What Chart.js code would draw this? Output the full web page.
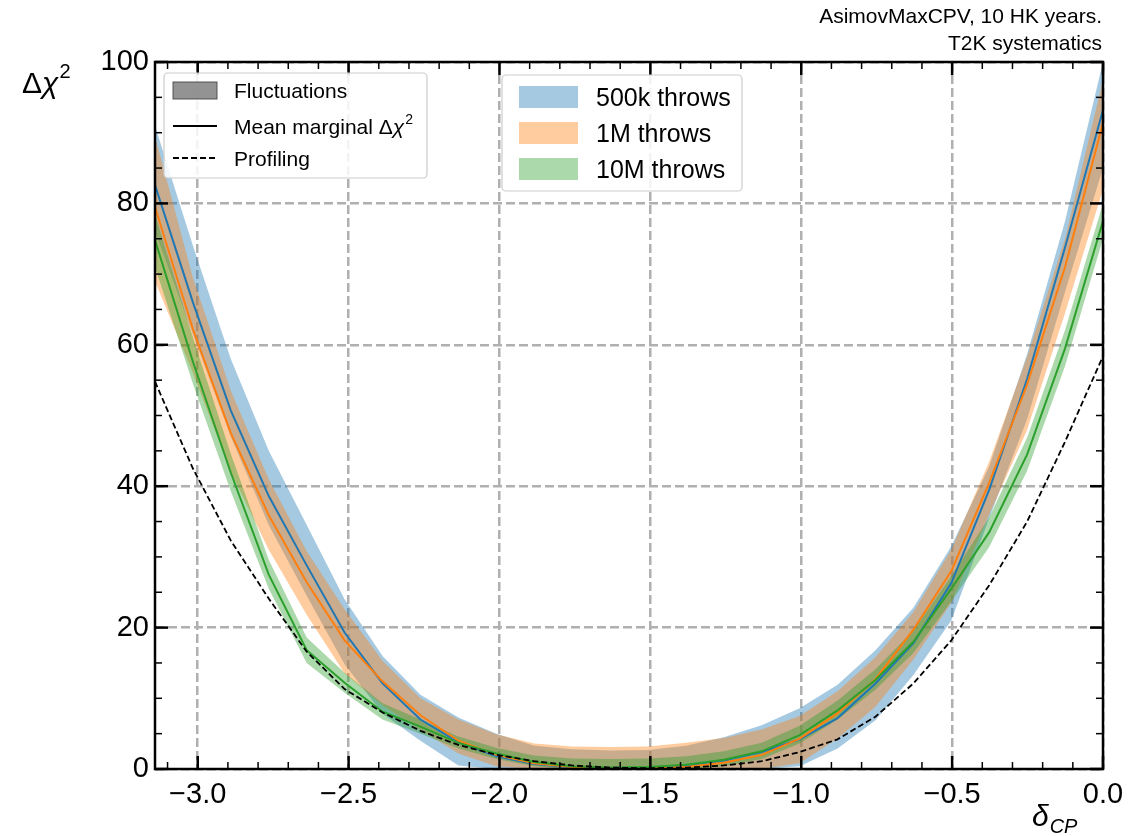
<!DOCTYPE html>
<html>
<head>
<meta charset="utf-8">
<script src="https://cdn.jsdelivr.net/npm/chart.js@4.4.0/dist/chart.umd.min.js"></script>
<style>
    html, body { margin: 0; padding: 0; background: #ffffff; }
    #wrap { width: 1148px; height: 836px; }
</style>
</head>
<body>
<div id="wrap"><canvas id="chi2-chart" width="1148" height="836"></canvas></div>
<script>
//DATOS: delta_CP de -pi a 0
const deltaCP = [-3.1416, -3.0159, -2.8903, -2.7646, -2.6389, -2.5133, -2.3876, -2.2619, -2.1363,
    -2.0106, -1.8850, -1.7593, -1.6336, -1.5080, -1.3823, -1.2566, -1.1310, -1.0053, -0.8796,
    -0.7540, -0.6283, -0.5027, -0.3770, -0.2513, -0.1257, 0.0];

// 500k throws
const blueMean = [82.6, 66.0, 50.7, 38.6, 28.8, 19.3, 12.1, 7.0, 3.8, 1.8, 0.7, 0.2, 0.0,
    0.1, 0.5, 1.2, 2.4, 4.2, 7.2, 12.1, 17.8, 26.3, 39.5, 55.2, 73.8, 93.2];
const blueLow = [76.0, 61.5, 47.0, 34.5, 24.5, 14.8, 7.8, 4.0, 0.5, 0, 0, 0, 0,
    0, 0, 0, 0, 0.4, 2.9, 6.9, 13.3, 21.0, 35.5, 49.5, 67.5, 85.0];
const blueHigh = [91.0, 74.0, 58.0, 45.0, 34.5, 24.0, 16.0, 10.5, 7.3, 5.0, 3.3, 2.8, 2.6,
    2.7, 3.3, 4.5, 6.2, 8.6, 11.9, 16.8, 22.8, 31.5, 42.8, 58.7, 77.5, 100.0];

// 1M throws
const orangeMean = [79.5, 62.2, 47.5, 35.9, 26.4, 18.2, 12.4, 7.6, 4.0, 2.0, 0.8, 0.3, 0.1,
    0.1, 0.3, 0.9, 2.0, 4.3, 7.9, 12.7, 19.7, 28.0, 40.5, 54.4, 71.0, 91.4];
const orangeLow = [69.0, 56.0, 42.0, 31.0, 21.8, 13.5, 9.0, 5.5, 2.2, 0.4, 0, 0, 0,
    0, 0, 0, 0, 0.8, 4.3, 8.8, 15.5, 23.5, 36.0, 48.0, 64.5, 82.0];
const orangeHigh = [89.5, 69.5, 53.5, 41.0, 30.8, 22.6, 15.3, 10.0, 7.0, 4.9, 3.6, 3.2, 3.1,
    3.2, 3.7, 4.4, 5.6, 7.5, 11.0, 15.8, 22.2, 31.0, 43.5, 58.3, 75.0, 97.5];

// 10M throws
const greenMean = [74.8, 57.6, 41.9, 27.5, 16.8, 12.2, 8.1, 6.0, 3.7, 2.2, 1.0, 0.4, 0.2,
    0.3, 0.6, 1.3, 2.5, 4.8, 8.3, 12.6, 18.0, 25.5, 33.5, 44.5, 59.5, 77.5];
const greenLow = [71.0, 54.5, 39.3, 25.5, 15.0, 10.8, 7.0, 5.0, 2.9, 1.4, 0.4, 0, 0,
    0, 0, 0.4, 1.4, 3.6, 7.0, 11.2, 16.4, 23.7, 31.4, 42.2, 57.0, 75.0];
const greenHigh = [78.5, 61.0, 44.6, 29.6, 18.6, 13.6, 9.3, 7.0, 4.6, 3.0, 1.9, 1.5, 1.4,
    1.5, 1.8, 2.5, 3.7, 6.1, 9.7, 14.1, 19.6, 27.3, 35.6, 46.9, 62.1, 80.0];

// Profiling
const profiling = [54.8, 42.5, 32.3, 24.1, 16.6, 11.3, 8.0, 5.4, 3.4, 2.0, 1.1, 0.5, 0.2,
    0.1, 0.2, 0.5, 1.1, 2.4, 4.2, 7.4, 12.1, 18.2, 26.0, 35.0, 46.3, 58.4];

// ticks
const xTicks = [-3.0, -2.5, -2.0, -1.5, -1.0, -0.5, 0.0];
const yTicks = [0, 20, 40, 60, 80, 100];

const throwLabels = ['500k throws', '1M throws', '10M throws'];
const styleLabels = ['Fluctuations', 'Mean marginal \u0394\u03c7', 'Profiling'];
const titleLines = ['AsimovMaxCPV, 10 HK years.', 'T2K systematics'];

const BLUE = 'rgb(31, 119, 180)';
const ORANGE = 'rgb(255, 127, 14)';
const GREEN = 'rgb(44, 160, 44)';
const BLUE_BAND = 'rgba(31, 119, 180, 0.4)';
const ORANGE_BAND = 'rgba(255, 127, 14, 0.4)';
const GREEN_BAND = 'rgba(44, 160, 44, 0.4)';
const FONT = '"Liberation Sans", Arial, Helvetica, sans-serif';

function pts(arr) {
    return deltaCP.map((x, i) => ({ x: x, y: arr[i] }));
}

function band(arr, color, order, fillPrev) {
    return {
        data: pts(arr),
        borderWidth: 0,
        borderColor: 'rgba(0,0,0,0)',
        backgroundColor: color,
        pointRadius: 0,
        fill: fillPrev ? '-1' : false,
        order: order
    };
}

function meanLine(arr, color, order, dash) {
    return {
        data: pts(arr),
        borderColor: color,
        borderWidth: dash ? 1.8 : 2,
        borderDash: dash || [],
        pointRadius: 0,
        fill: false,
        tension: 0,
        order: order
    };
}

//TEXTOS, TICKS Y LEYENDAS ESTILO MATPLOTLIB
const mplFrame = {
    id: 'mplFrame',
    afterDatasetsDraw(chart) {
        const ctx = chart.ctx;
        const a = chart.chartArea;
        const xs = chart.scales.x;
        const ys = chart.scales.y;

        ctx.save();
        ctx.strokeStyle = '#000';
        ctx.setLineDash([]);

        function seg(x1, y1, x2, y2) {
            ctx.beginPath();
            ctx.moveTo(x1, y1);
            ctx.lineTo(x2, y2);
            ctx.stroke();
        }

        // minor ticks
        ctx.lineWidth = 1.5;
        for (let i = -31; i < 0; i++) {
            const v = i / 10;
            if (i % 5 === 0) continue;
            const px = xs.getPixelForValue(v);
            seg(px, a.bottom, px, a.bottom - 7);
            seg(px, a.top, px, a.top + 7);
        }
        for (let v = 5; v < 100; v += 5) {
            if (v % 20 === 0) continue;
            const py = ys.getPixelForValue(v);
            seg(a.left, py, a.left + 7, py);
            seg(a.right, py, a.right - 7, py);
        }

        // major ticks
        ctx.lineWidth = 2.5;
        xTicks.forEach(v => {
            const px = xs.getPixelForValue(v);
            seg(px, a.bottom, px, a.bottom - 13);
            seg(px, a.top, px, a.top + 13);
        });
        yTicks.forEach(v => {
            const py = ys.getPixelForValue(v);
            seg(a.left, py, a.left + 13, py);
            seg(a.right, py, a.right - 13, py);
        });

        // frame
        ctx.lineWidth = 2.5;
        ctx.strokeRect(a.left, a.top, a.right - a.left, a.bottom - a.top);

        // legend 1
        function box(x, y, w, h) {
            ctx.beginPath();
            ctx.roundRect(x, y, w, h, 4);
            ctx.fillStyle = 'rgba(255,255,255,0.85)';
            ctx.fill();
            ctx.lineWidth = 1.2;
            ctx.strokeStyle = '#cccccc';
            ctx.stroke();
        }

        box(164, 73, 263, 105);
        ctx.fillStyle = 'rgba(128,128,128,0.85)';
        ctx.fillRect(173, 82, 44, 17);
        ctx.strokeStyle = 'rgba(70,70,70,0.9)';
        ctx.lineWidth = 1;
        ctx.strokeRect(173, 82, 44, 17);
        ctx.strokeStyle = '#000';
        ctx.lineWidth = 2;
        seg(173, 126, 217, 126);
        ctx.lineWidth = 1.8;
        ctx.setLineDash([6, 3]);
        seg(173, 158, 217, 158);
        ctx.setLineDash([]);

        ctx.fillStyle = '#000';
        ctx.textBaseline = 'alphabetic';
        ctx.textAlign = 'left';
        ctx.font = '21px ' + FONT;
        ctx.fillText(styleLabels[0], 234, 98);
        ctx.fillText(styleLabels[2], 234, 166);
        // Mean marginal Δχ²
        ctx.fillText('Mean marginal \u0394', 234, 134);
        let w = ctx.measureText('Mean marginal \u0394').width;
        ctx.font = 'italic 21px ' + FONT;
        ctx.fillText('\u03c7', 234 + w, 134);
        w += ctx.measureText('\u03c7').width;
        ctx.font = '14px ' + FONT;
        ctx.fillText('2', 234 + w + 1, 124);

        // legend 2
        box(502, 75, 240, 116);
        const bands = [BLUE_BAND, ORANGE_BAND, GREEN_BAND];
        const rowsY = [97, 133, 169];
        ctx.font = '25px ' + FONT;
        bands.forEach((c, i) => {
            ctx.fillStyle = c;
            ctx.fillRect(519, rowsY[i] - 11, 59, 22);
            ctx.fillStyle = '#000';
            ctx.fillText(throwLabels[i], 596, rowsY[i] + 9);
        });

        ctx.restore();
    },
    afterDraw(chart) {
        const ctx = chart.ctx;
        ctx.save();
        ctx.fillStyle = '#000';
        ctx.textBaseline = 'alphabetic';

        // titulo
        ctx.textAlign = 'right';
        ctx.font = '21px ' + FONT;
        ctx.fillText(titleLines[0], 1102, 23);
        ctx.fillText(titleLines[1], 1102, 50);

        // eje y: Δχ²
        ctx.textAlign = 'left';
        ctx.font = '30px ' + FONT;
        ctx.fillText('\u0394', 22, 93);
        let w = ctx.measureText('\u0394').width;
        ctx.font = 'italic 30px ' + FONT;
        ctx.fillText('\u03c7', 22 + w, 93);
        w += ctx.measureText('\u03c7').width;
        ctx.font = '20px ' + FONT;
        ctx.fillText('2', 22 + w + 1, 78);

        // eje x: δCP
        ctx.font = 'italic 30px ' + FONT;
        ctx.fillText('\u03b4', 1032, 826);
        const dw = ctx.measureText('\u03b4').width;
        ctx.font = 'italic 20px ' + FONT;
        ctx.fillText('CP', 1032 + dw + 1, 833);

        ctx.restore();
    }
};

const ctx = document.getElementById('chi2-chart');

// bandas debajo, lineas encima (order menor = se dibuja encima)
new Chart(ctx, {
    type: 'line',
    data: {
        datasets: [
            band(blueLow, BLUE_BAND, 6, false),
            band(blueHigh, BLUE_BAND, 6, true),
            meanLine(blueMean, BLUE, 3),
            band(orangeLow, ORANGE_BAND, 5, false),
            band(orangeHigh, ORANGE_BAND, 5, true),
            meanLine(orangeMean, ORANGE, 2),
            band(greenLow, GREEN_BAND, 4, false),
            band(greenHigh, GREEN_BAND, 4, true),
            meanLine(greenMean, GREEN, 1),
            meanLine(profiling, '#000000', 0, [6, 3])
        ]
    },
    options: {
        responsive: false,
        animation: false,
        devicePixelRatio: 1,
        layout: {
            padding: { top: 62, right: 45, left: 0, bottom: 0 }
        },
        plugins: {
            legend: { display: false },
            tooltip: { enabled: false }
        },
        elements: {
            line: { tension: 0 }
        },
        scales: {
            x: {
                type: 'linear',
                min: -Math.PI,
                max: 0,
                afterBuildTicks(scale) {
                    scale.ticks = xTicks.map(v => ({ value: v }));
                },
                afterFit(scale) {
                    scale.height = 67;
                },
                ticks: {
                    padding: 9,
                    maxRotation: 0,
                    autoSkip: false,
                    color: '#000',
                    font: { family: FONT, size: 29 },
                    callback: v => v.toFixed(1).replace('-', '\u2212')
                },
                grid: {
                    color: '#b0b0b0',
                    lineWidth: 2.5,
                    drawTicks: false
                },
                border: { display: false, dash: [9, 4] }
            },
            y: {
                type: 'linear',
                min: 0,
                max: 100,
                afterBuildTicks(scale) {
                    scale.ticks = yTicks.map(v => ({ value: v }));
                },
                afterFit(scale) {
                    scale.width = 155;
                },
                ticks: {
                    padding: 6,
                    color: '#000',
                    font: { family: FONT, size: 29 },
                    callback: v => String(v)
                },
                grid: {
                    color: '#b0b0b0',
                    lineWidth: 2.5,
                    drawTicks: false
                },
                border: { display: false, dash: [9, 4] }
            }
        }
    },
    plugins: [mplFrame]
});
</script>
</body>
</html>
